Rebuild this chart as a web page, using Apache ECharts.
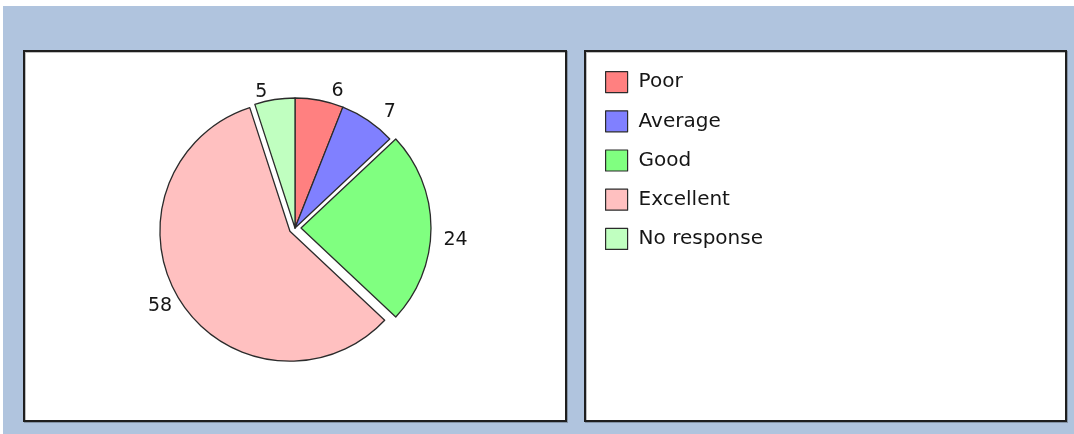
<!DOCTYPE html>
<html>
<head>
<meta charset="utf-8">
<title>Responses</title>
<script src="https://cdn.jsdelivr.net/npm/echarts@6/dist/echarts.min.js"></script>
<style>
  html, body { margin: 0; padding: 0; background: #ffffff; }
  #chart { width: 1074px; height: 434px; }
</style>
</head>
<body>
<div id="chart"></div>
<script>
// Survey answers and how many respondents gave each one
const categories = ['Poor', 'Average', 'Good', 'Excellent', 'No response'];
const responses = [6, 7, 24, 58, 5];
// Slices pulled out from the centre
const explodedSlices = ['Good', 'Excellent'];

// Slice fill colours, in category order
const sliceColors = ['#ff8080', '#8080ff', '#80ff80', '#ffc0c0', '#c0ffc0'];

// Where each value label sits relative to its slice
const labelGuides = {
  'Poor':        { length: 9,   length2: 5.5, distance: 5 },
  'Average':     { length: 10,  length2: 5,   distance: 5 },
  'Good':        { length: 5,   length2: 2.5, distance: 5, dropLine: true },
  'Excellent':   { length: 9.6, length2: 0,   distance: 0 },
  'No response': { length: 8,   length2: 1,   distance: 5 }
};

const FONT = '"DejaVu Sans", "Noto Sans", sans-serif';
const OUTLINE = '#2b2b2b';

const pieData = categories.map(function (name, i) {
  const g = labelGuides[name];
  const label = { distanceToLabelLine: g.distance };
  if (g.dropLine) {
    // value sits half a line below the slice's mid-angle
    label.formatter = '\n{c}';
    label.lineHeight = 25;
  }
  return {
    name: name,
    value: responses[i],
    selected: explodedSlices.indexOf(name) !== -1,
    label: label,
    labelLine: { show: false, length: g.length, length2: g.length2 }
  };
});

const chart = echarts.init(document.getElementById('chart'), null, { renderer: 'canvas' });

chart.setOption({
  animation: false,
  backgroundColor: '#ffffff',
  color: sliceColors,
  graphic: {
    elements: [
      {
        type: 'rect', z: -10, silent: true,
        shape: { x: 3, y: 6, width: 1071, height: 428 },
        style: { fill: '#b0c4de' }
      },
      {
        type: 'rect', z: -5, silent: true,
        shape: { x: 24, y: 51, width: 542, height: 370 },
        style: {
          fill: '#ffffff', stroke: '#1f1f1f', lineWidth: 2,
          shadowColor: 'rgba(0,0,0,0.25)', shadowOffsetX: 1, shadowOffsetY: 1
        }
      },
      {
        type: 'rect', z: -5, silent: true,
        shape: { x: 585, y: 51, width: 481, height: 370 },
        style: {
          fill: '#ffffff', stroke: '#1f1f1f', lineWidth: 2,
          shadowColor: 'rgba(0,0,0,0.25)', shadowOffsetX: 1, shadowOffsetY: 1
        }
      }
    ]
  },
  legend: {
    orient: 'vertical',
    left: 605,
    top: 71,
    padding: 0,
    icon: 'rect',
    itemWidth: 22,
    itemHeight: 21,
    itemGap: 17,
    selectedMode: false,
    itemStyle: { borderColor: OUTLINE, borderWidth: 1.2 },
    textStyle: {
      fontFamily: FONT,
      fontSize: 20,
      color: '#161616',
      padding: [0, 0, 0, 6]
    },
    data: categories
  },
  series: [
    {
      type: 'pie',
      center: [295, 228],
      radius: 130,
      startAngle: 90,
      clockwise: true,
      selectedMode: 'multiple',
      selectedOffset: 6,
      avoidLabelOverlap: false,
      silent: true,
      emphasis: { disabled: true, scale: false },
      itemStyle: { borderColor: OUTLINE, borderWidth: 1.3 },
      select: { itemStyle: { borderColor: OUTLINE, borderWidth: 1.3 } },
      label: {
        show: true,
        position: 'outside',
        formatter: '{c}',
        fontFamily: FONT,
        fontSize: 19,
        color: '#161616'
      },
      labelLine: { show: false },
      data: pieData
    }
  ]
});
</script>
</body>
</html>
